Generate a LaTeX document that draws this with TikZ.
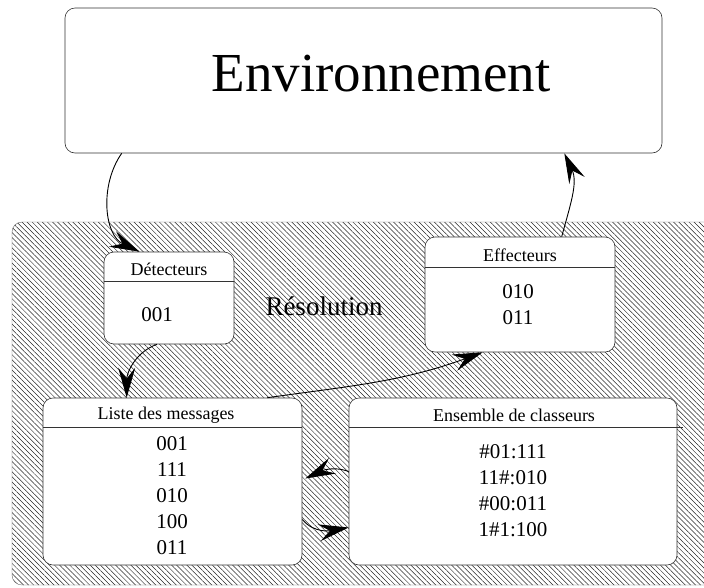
\documentclass[tikz,border=0pt]{standalone}
\usepackage{fontspec}
\setmainfont{Liberation Serif}
\usetikzlibrary{calc}
\usetikzlibrary{arrows.meta,positioning,patterns.meta}

\begin{document}
\begin{tikzpicture}[
    x=1pt, y=-1pt,
    boite/.style={
      rectangle,
      draw=black!80,
      fill=white,
      line width=0.6pt,
      rounded corners=10pt,
      inner sep=0pt
    },
    titre/.style={font=\fontsize{18}{21}\selectfont},
    contenu/.style={font=\fontsize{21}{26}\selectfont, align=center},
    separ/.style={draw=black!80, line width=0.6pt},
    fleche/.style={-{Stealth[length=30pt,width=17pt,inset=11pt]}, line width=0.9pt}
]

\useasboundingbox (0,0) rectangle (704,587);

%% Zone hachuree
\draw[draw=black!60, rounded corners=10pt,
      pattern={Lines[angle=-45, distance=3.6pt, line width=0.5pt]}, pattern color=black!85]
      (12,222) rectangle (740,585);

\node [boite, minimum width=597pt, minimum height=145pt] (env) at (363.5,80.5) {};
\node [font=\fontsize{55}{60}\selectfont] (envtxt) at (381,74) {Environnement};
\node [font=\fontsize{27}{30}\selectfont] (resol) at (324,306) {Résolution};

\node [boite, minimum width=130pt, minimum height=92pt] (det) at (169,298) {};
\node [titre] (dettitre) at (169,269) {Détecteurs};
\node [contenu] (detval) at (157,315) {001};

\node [boite, minimum width=190pt, minimum height=115pt] (eff) at (520,294.5) {};
\node [titre] (efftitre) at (520,255) {Effecteurs};
\node [contenu] (effval) at (518,304.5) {010\\011};

\node [boite, minimum width=259pt, minimum height=167pt] (liste) at (172.5,481.5) {};
\node [titre] (listetitre) at (166,415) {Liste des messages};
\node [contenu] (listeval) at (172,496) {001\\111\\010\\100\\011};

\node [boite, minimum width=328pt, minimum height=167pt] (ens) at (513,481.5) {};
\node [titre] (enstitre) at (514,415) {Ensemble de classeurs};
\node [contenu] (ensval) at (513,491) {\#01:111\\11\#:010\\\#00:011\\1\#1:100};

%% Separateurs
\draw [separ] ($(det.north west)+(0,30)$) -- ($(det.north east)+(0,30)$);
\draw [separ] ($(eff.north west)+(0,31)$) -- ($(eff.north east)+(0,31)$);
\draw [separ] ($(liste.north west)+(0,30)$) -- ($(liste.north east)+(0,30)$);
\draw [separ] ($(ens.north west)+(0,30)$) -- ($(ens.north east)+(6,30)$);

%% Fleches
\draw [fleche] ($(env.south west)+(57,0)$) to [out=235, in=155] ($(det.north west)+(36,0)$);
\draw [fleche] ($(eff.north west)+(137,0)$) to [out=75, in=-65] ($(env.south east)+(-98,0)$);
\draw [fleche] ($(det.south)+(-12,0)$) to [out=200, in=90] ($(liste.north west)+(84,0)$);
\draw [fleche] ($(liste.north east)+(-35,0)$) to [out=8, in=200] ($(eff.south west)+(58,0)$);
\draw [fleche] ($(ens.west)+(0,-10)$) to [out=160, in=25] ($(liste.east)+(3,-3)$);
\draw [fleche] ($(liste.east)+(0,38)$) to [out=-50, in=190] ($(ens.west)+(0,46)$);

\end{tikzpicture}
\end{document}
